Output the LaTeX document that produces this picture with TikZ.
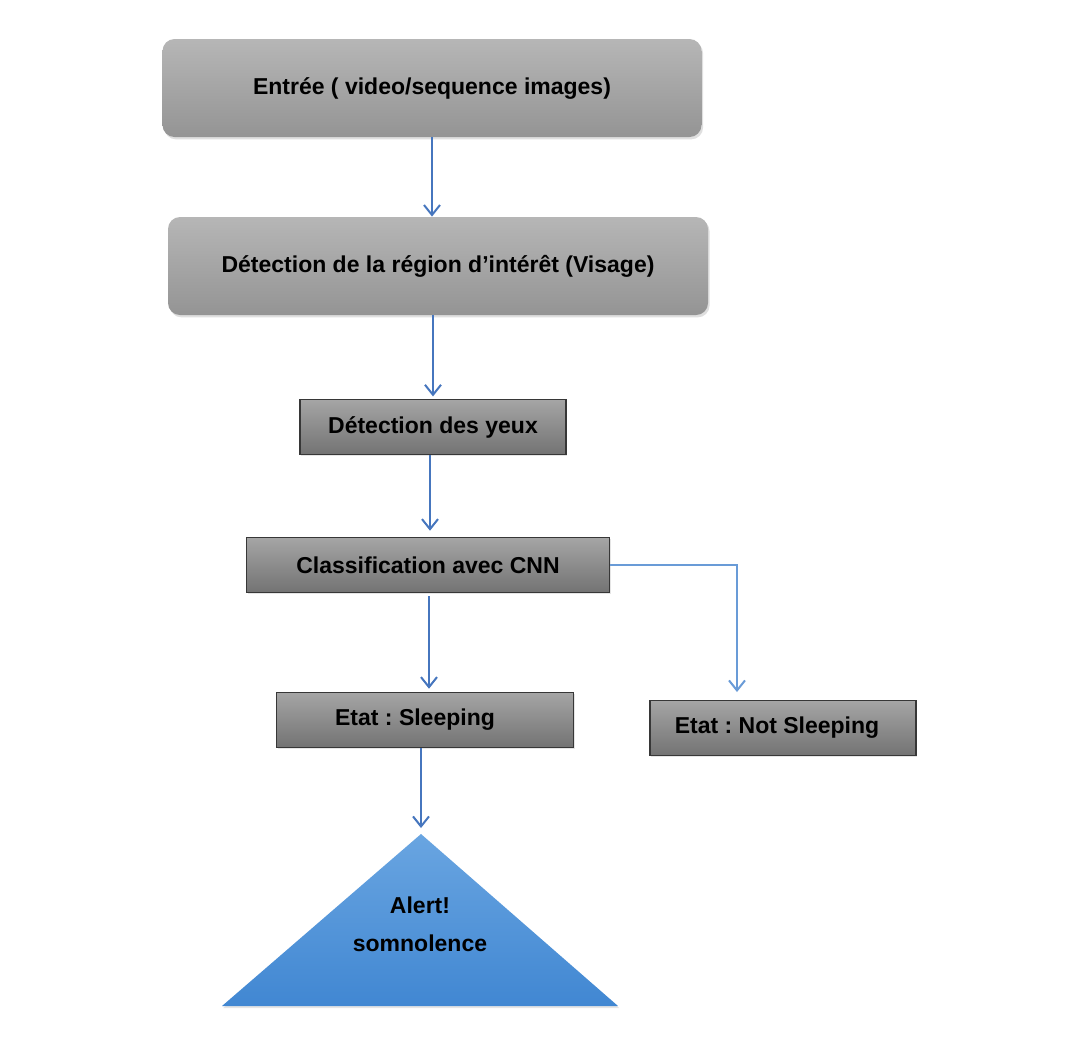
\documentclass[tikz,border=0pt]{standalone}
\usepackage{fontspec}
\setmainfont{Liberation Sans}
\usepackage{tikz}
\usetikzlibrary{positioning,arrows.meta,calc,shadows}
\frenchspacing
\definecolor{sdGrayTop}{RGB}{182,182,182}
\definecolor{sdGrayBot}{RGB}{148,148,148}
\definecolor{sdBoxTop}{RGB}{165,165,165}
\definecolor{sdBoxBot}{RGB}{115,115,115}
\definecolor{sdBorder}{RGB}{55,55,55}
\definecolor{sdArrow}{RGB}{70,118,190}
\definecolor{sdArrowLight}{RGB}{105,155,215}
\definecolor{sdTriTop}{RGB}{105,165,225}
\definecolor{sdTriBot}{RGB}{65,135,210}
\tikzset{
    base/.style={font=\bfseries\fontsize{11.5}{13}\selectfont, align=center, text=black},
    stage/.style={base, rectangle, rounded corners=6pt, top color=sdGrayTop,
                  bottom color=sdGrayBot, minimum height=49pt,
                  drop shadow={opacity=0.25, shadow xshift=0.8pt, shadow yshift=-1.2pt}},
    block/.style={base, rectangle, draw=sdBorder, line width=0.8pt, top color=sdBoxTop,
                  bottom color=sdBoxBot, minimum height=27.5pt, minimum width=133pt,
                  drop shadow={opacity=0.2, shadow xshift=0.6pt, shadow yshift=-0.8pt}},
    flow/.style={-{Straight Barb[length=5pt, width=8pt]}, line width=1pt, color=sdArrow},
    flowlight/.style={flow, color=sdArrowLight}
}
\begin{document}
\begin{tikzpicture}[x=0.5pt, y=-0.5pt]
  \useasboundingbox[fill=white] (0,0) rectangle (1080,1040);

  % Pipeline stages
  \node[stage, minimum width=269.5pt] (input) at (432,88) {Entrée ( video/sequence images)};
  \node[stage, minimum width=270pt] (roi) at (438,266) {Détection de la région d’intérêt (Visage)};
  \node[block] (eyes) at (433,427) {Détection des yeux};
  \node[block, minimum width=181.5pt] (cnn) at (428,565) {Classification avec CNN};
  \node[block, minimum width=148.5pt] (sleep) at (425,720) {Etat : Sleeping\hspace*{10pt}};
  \node[block] (awake) at (783,728) {Etat : Not Sleeping\hspace*{6pt}};

  % Alert triangle
  \coordinate (alertTop) at (421,834);
  \shade[top color=sdTriTop, bottom color=sdTriBot,
         drop shadow={opacity=0.2, shadow xshift=0.6pt, shadow yshift=-1pt}]
    (alertTop) -- (618,1006) -- (222,1006) -- cycle;
  \node[base, font=\bfseries\fontsize{11.5}{19}\selectfont, text width=80pt] (alert) at (420,924) {Alert!\\somnolence};

  % Arrows
  \coordinate (awakeTop) at (737,692);
  \draw[flow] (input.south) -- (input.south |- roi.north);
  \draw[flow] (roi.south -| eyes.north) -- ++(0,81);
  \draw[flow] ($(eyes.south)+(-3,0)$) -- ($(cnn.north)+(2,-6)$);
  \draw[flow] ($(cnn.south)+(1,3)$) -- ($(sleep.north)+(4,-3)$);
  \draw[flowlight] (cnn.east) -| (awakeTop);
  \draw[flow, shorten >=3pt] (sleep.south -| alertTop) -- (alertTop);
\end{tikzpicture}
\end{document}
